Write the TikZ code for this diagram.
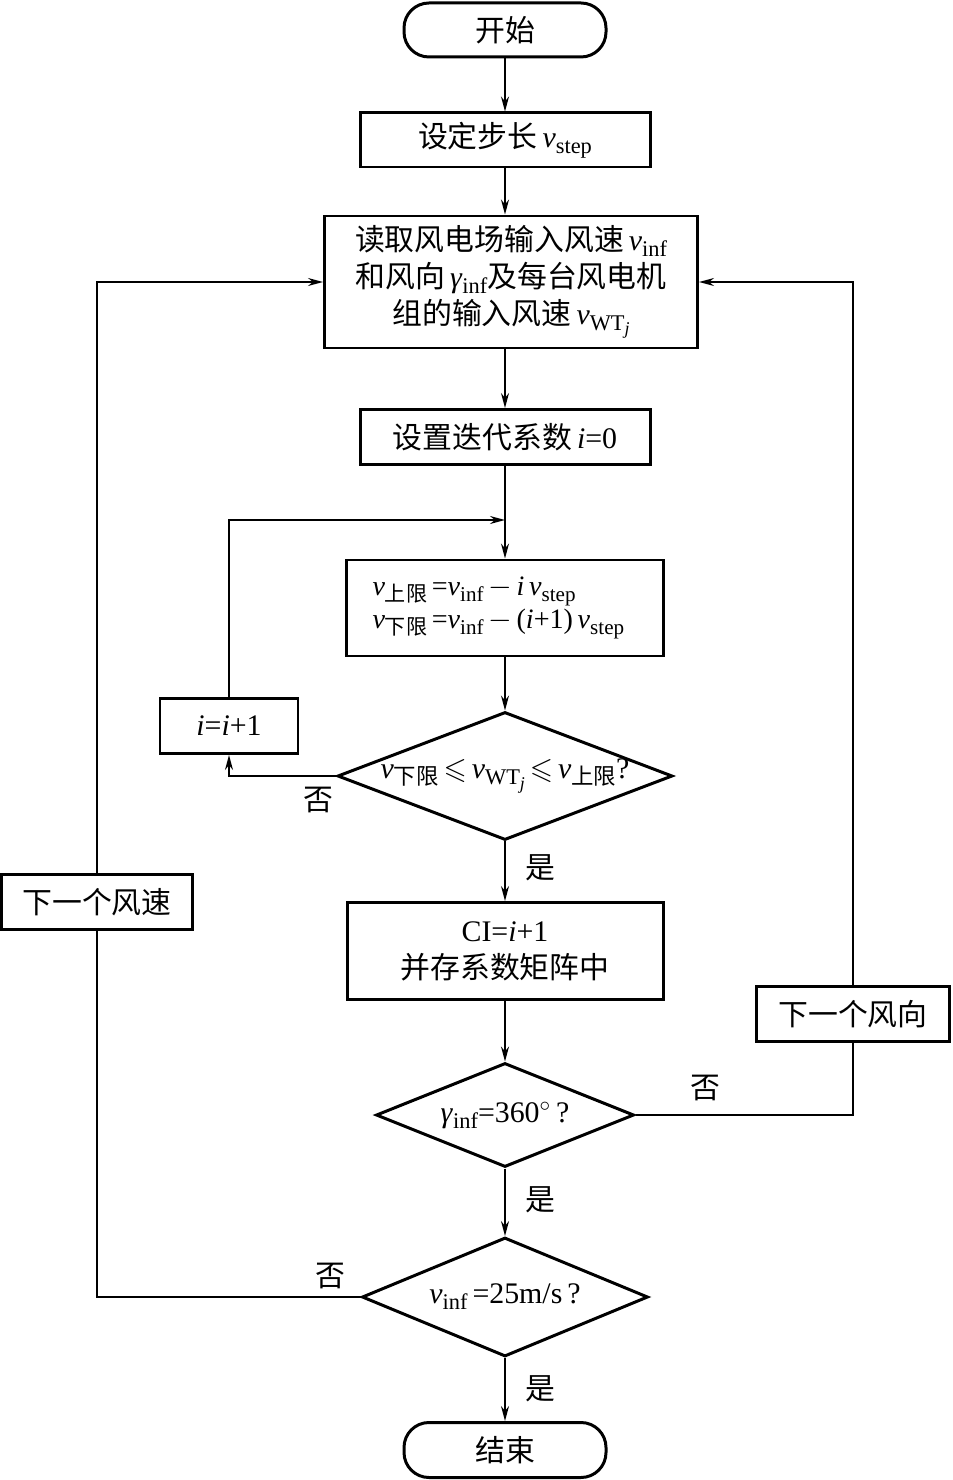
\documentclass[tikz,border=0pt]{standalone}
\usepackage{amssymb}
\usepackage{fontspec}
\setmainfont{Liberation Serif}
\newfontfamily\cjk{Noto Sans CJK SC}
\usetikzlibrary{arrows.meta, positioning, shapes.geometric, calc}
\newcommand{\zh}[1]{{\cjk #1}}
\newcommand{\vv}{\textit{v}}
\newcommand{\gam}{\textit{γ}}
\newcommand{\sub}[1]{\raisebox{-0.45ex}{\scalebox{0.75}{#1}}}
\newcommand{\wtj}{WT\raisebox{-0.45ex}{\scalebox{0.8}{\textit{j}}}}

\begin{document}
\begin{tikzpicture}[on grid, node distance=3cm, >={Stealth[length=3mm, width=1.6mm]},
    font=\fontsize{17}{21}\selectfont,
    every path/.style={line width=0.85pt},
    box/.style={draw, line width=1.7pt, rectangle, inner sep=0pt, align=center},
    term/.style={box, rounded corners=0.5cm},
    cond/.style={draw, line width=1.7pt, diamond, inner sep=0pt}]
    \useasboundingbox (0,0) rectangle (19.06,-29.6);
    \node[term, minimum width=4.04cm, minimum height=1.08cm] (start) at (10.1,-0.6) {\zh{开始}};
    \node[box, minimum width=5.8cm, minimum height=1.08cm] (setstep) [below=2.2cm of start] {\zh{设定步长}\,\vv\sub{step}};
    \node[box, minimum width=7.46cm, minimum height=2.64cm] (read) [below=2.84cm of setstep, xshift=0.12cm]
        {\zh{读取风电场输入风速}\,\vv\sub{inf}\\\zh{和风向}\,\gam\sub{inf}\zh{及每台风电机}\\\zh{组的输入风速}\,\vv\sub{\wtj}};
    \node[box, minimum width=5.8cm, minimum height=1.1cm] (iter) [below=3.1cm of read, xshift=-0.12cm] {\zh{设置迭代系数}\,\textit{i}=0};
    \node[box, minimum width=6.34cm, minimum height=1.92cm, text width=5.3cm, align=left, font=\fontsize{16}{19}\selectfont] (bound) [below=3.42cm of iter]
        {\vv\sub{\zh{上限}}\,=\vv\sub{inf}\,$-$\,\textit{i}\,\vv\sub{step}\\\vv\sub{\zh{下限}}\,=\vv\sub{inf}\,$-$\,(\textit{i}+1)\,\vv\sub{step}};
    \coordinate[above=1.76cm of bound] (join);
    \node[cond, minimum width=6.7cm, minimum height=2.56cm] (check) [below=3.36cm of bound] {};
    \node (checktxt) at (check) {\vv\sub{\zh{下限}}\,$\leqslant$\,\vv\sub{\wtj}\,$\leqslant$\,\vv\sub{\zh{上限}}?};
    \node[box, minimum width=2.76cm, minimum height=1.1cm] (inc) [above left=1.0cm and 5.52cm of check] {\textit{i}=\textit{i}+1};
    \node[box, minimum width=6.32cm, minimum height=1.94cm] (save) [below=3.5cm of check] {CI=\textit{i}+1\\\zh{并存系数矩阵中}};
    \node[cond, minimum width=5.16cm, minimum height=2.08cm] (dir) [below=3.28cm of save] {};
    \node (dirtxt) at (dir) {\gam\sub{inf}=360$^\circ$\,?};
    \node[box, minimum width=3.86cm, minimum height=1.1cm] (nextdir) [above right=2.02cm and 6.96cm of dir] {\zh{下一个风向}};
    \node[cond, minimum width=5.72cm, minimum height=2.38cm] (speed) [below=3.64cm of dir] {};
    \node (speedtxt) at (speed) {\vv\sub{inf}\,=25m/s\,?};
    \node[box, minimum width=3.82cm, minimum height=1.1cm] (nextspd) [above left=7.9cm and 8.16cm of speed] {\zh{下一个风速}};
    \node[term, minimum width=4.04cm, minimum height=1.1cm] (stop) [below=3.06cm of speed] {\zh{结束}};

    \path[->]
    (start) edge (setstep)
    (setstep) edge (iter |- read.north)
    (iter |- read.south) edge (iter)
    (iter) edge (bound)
    (bound) edge (check)
    (check) edge (save)
    (save) edge (dir)
    (dir) edge (speed)
    (speed) edge (stop);

    \draw[->] (check.west) -| (inc.south);
    \draw[->] (inc.north) |- (join);
    \draw (dir.east) -| (nextdir.south);
    \draw[->] (nextdir.north) |- (read.east);
    \draw (speed.west) -| (nextspd.south);
    \draw[->] (nextspd.north) |- (read.west);

    \node (no1) at ($(check.west)+(-0.36,-0.48)$) {\zh{否}};
    \node (yes1) at ($(check.south)+(0.7,-0.52)$) {\zh{是}};
    \node (no2) at ($(dir.east)+(1.4,0.54)$) {\zh{否}};
    \node (yes2) at ($(dir.south)+(0.7,-0.62)$) {\zh{是}};
    \node (no3) at ($(speed.west)+(-0.6,0.42)$) {\zh{否}};
    \node (yes3) at ($(speed.south)+(0.7,-0.62)$) {\zh{是}};
\end{tikzpicture}
\end{document}
